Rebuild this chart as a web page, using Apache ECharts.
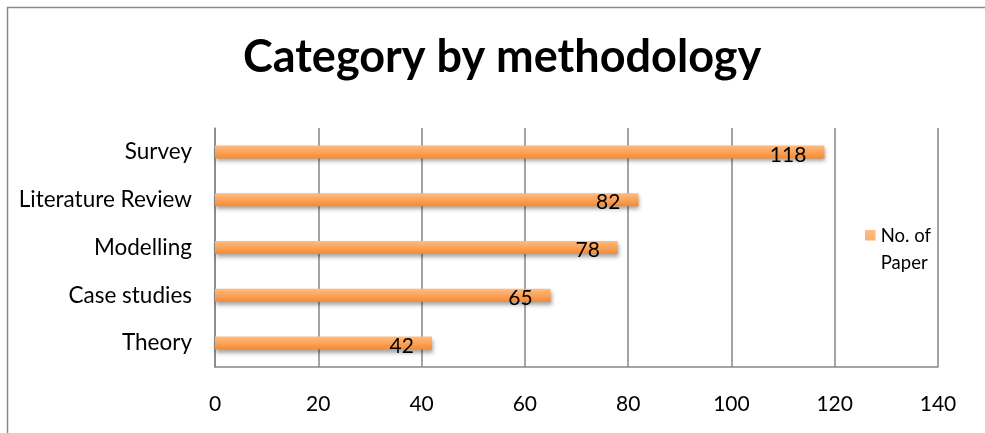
<!DOCTYPE html>
<html>
<head>
<meta charset="utf-8">
<script src="https://cdn.jsdelivr.net/npm/echarts@6/dist/echarts.min.js"></script>
<style>html,body{margin:0;padding:0;background:#fff}#c{width:985px;height:433px}</style>
</head>
<body>
<div id="c"></div>
<script>
var categories = ['Theory', 'Case studies', 'Modelling', 'Literature Review', 'Survey'];
var values = [42, 65, 78, 82, 118];
var seriesName = 'No. of Paper';
var xTicks = [0, 20, 40, 60, 80, 100, 120, 140];
var titleText = 'Category by methodology';

var FONT = 'Lato, "Open Sans", sans-serif';
var chart = echarts.init(document.getElementById('c'), null, {renderer: 'canvas'});
chart.setOption({
  animation: false,
  backgroundColor: '#fff',
  title: {
    text: titleText, left: 238, top: 30,
    textStyle: {fontFamily: FONT, fontWeight: 'bold', fontSize: 45, color: '#000'}
  },
  graphic: [{
    type: 'rect', silent: true,
    shape: {x: 7.5, y: 7.5, width: 1000, height: 450},
    style: {fill: 'none', stroke: '#8a8a8a', lineWidth: 1.5}
  }],
  legend: {
    left: 860, top: 218, orient: 'vertical',
    itemWidth: 11, itemHeight: 40, itemGap: 4,
    icon: 'path://M0,0L10,0L10,10L0,10Z M0,38L10,38Z',
    formatter: function () { return 'No. of\nPaper'; },
    textStyle: {fontFamily: FONT, fontSize: 18.5, color: '#000', lineHeight: 27},
    data: [seriesName]
  },
  grid: {left: 215, right: 47, top: 128, bottom: 66, containLabel: false},
  xAxis: {
    type: 'value', min: xTicks[0], max: xTicks[xTicks.length - 1], interval: 20,
    axisLine: {show: true, lineStyle: {color: '#868686', width: 1.5}},
    axisTick: {show: false},
    splitLine: {show: true, lineStyle: {color: '#868686', width: 1.5}},
    axisLabel: {fontFamily: FONT, fontSize: 21, color: '#000', margin: 27}
  },
  yAxis: {
    type: 'category', data: categories,
    axisLine: {show: true, lineStyle: {color: '#868686', width: 1.5}},
    axisTick: {show: false},
    axisLabel: {fontFamily: FONT, fontSize: 22.5, color: '#000', margin: 23}
  },
  series: [{
    name: seriesName, type: 'bar', data: values, barWidth: 13,
    itemStyle: {
      color: new echarts.graphic.LinearGradient(0, 0, 0, 1, [
        {offset: 0, color: '#FFBC80'},
        {offset: 0.5, color: '#FBA35A'},
        {offset: 1, color: '#F58A32'}
      ]),
      shadowColor: 'rgba(0,0,0,0.35)', shadowBlur: 4, shadowOffsetY: 3, shadowOffsetX: 1
    },
    label: {
      show: true, position: 'insideRight', distance: 18, offset: [0, 3],
      fontFamily: FONT, fontSize: 21, color: '#000'
    }
  }]
});
</script>
</body>
</html>
